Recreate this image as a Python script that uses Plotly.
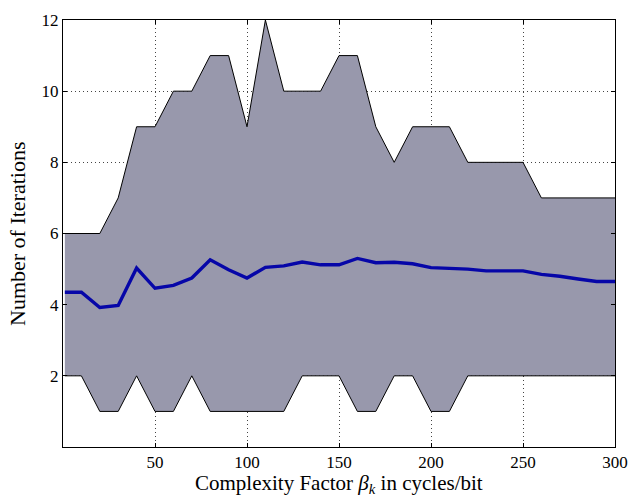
import plotly.graph_objects as go

x_vals = [1, 10, 20, 30, 40, 50, 60, 70, 80, 90, 100, 110, 120, 130, 140, 150,
          160, 170, 180, 190, 200, 210, 220, 230, 240, 250, 260, 270, 280, 290, 300]
upper = [6, 6, 6, 7, 9, 9, 10, 10, 11, 11, 9, 12, 10, 10, 10, 11,
         11, 9, 8, 9, 9, 9, 8, 8, 8, 8, 7, 7, 7, 7, 7]
lower = [2, 2, 1, 1, 2, 1, 1, 2, 1, 1, 1, 1, 1, 2, 2, 2,
         1, 1, 2, 2, 1, 1, 2, 2, 2, 2, 2, 2, 2, 2, 2]
mean = [4.35, 4.35, 3.92, 3.98, 5.03, 4.46, 4.54, 4.75, 5.26, 4.98, 4.75, 5.05, 5.09, 5.20, 5.12, 5.12,
        5.30, 5.18, 5.19, 5.15, 5.04, 5.02, 5.00, 4.95, 4.95, 4.95, 4.85, 4.80, 4.72, 4.65, 4.65]
x_ticks = [50, 100, 150, 200, 250, 300]
y_ticks = [2, 4, 6, 8, 10, 12]
x_title = "Complexity Factor <i>β</i><sub><i>k</i></sub> in cycles/bit"
y_title = "Number of Iterations"

FONT = "Liberation Serif"

fig = go.Figure()
fig.add_trace(go.Scatter(x=x_vals, y=upper, mode="lines",
                         line=dict(color="black", width=1), showlegend=False))
fig.add_trace(go.Scatter(x=x_vals, y=lower, mode="lines", fill="tonexty",
                         fillcolor="#9898ac",
                         line=dict(color="black", width=1), showlegend=False))
fig.add_trace(go.Scatter(x=x_vals, y=mean, mode="lines",
                         line=dict(color="#0606a8", width=3.4), showlegend=False))

axis_common = dict(
    showline=True, linecolor="black", linewidth=1, mirror="ticks",
    ticks="inside", ticklen=4, tickcolor="black",
    showgrid=True, gridcolor="#444444", gridwidth=1, griddash="1px,3px",
    zeroline=False, automargin=False,
    tickfont=dict(family=FONT, size=17, color="black"),
)

fig.update_layout(
    width=630, height=498,
    margin=dict(l=63, r=15, t=20, b=51),
    paper_bgcolor="white", plot_bgcolor="white",
    font=dict(family=FONT, color="black"),
    xaxis=dict(range=[0, 300], tickvals=x_ticks, **axis_common),
    yaxis=dict(range=[0, 12], tickvals=y_ticks, **axis_common),
    annotations=[
        dict(text=x_title, xref="paper", yref="paper", x=0.5, y=0,
             yshift=-22, xanchor="center", yanchor="top", showarrow=False,
             font=dict(family=FONT, size=21, color="black")),
        dict(text=y_title, xref="paper", yref="paper", x=0, y=0.5,
             xshift=-31, xanchor="right", yanchor="middle", textangle=-90,
             showarrow=False, font=dict(family=FONT, size=22, color="black")),
    ],
)

fig.write_html("out.html", config={"displayModeBar": False},
               post_script="document.body.style.margin='0';document.body.style.padding='0';")
